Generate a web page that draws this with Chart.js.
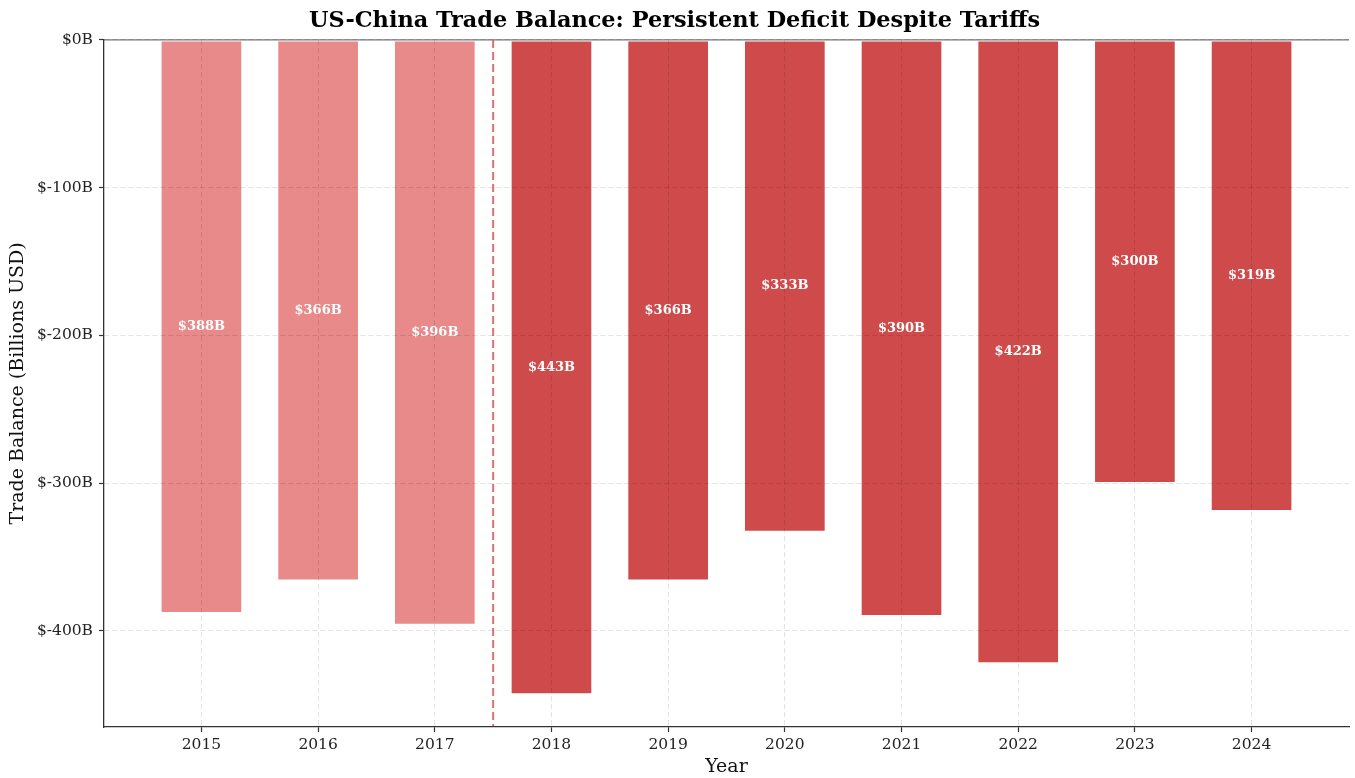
<!DOCTYPE html>
<html>
<head>
<meta charset="utf-8">
<script src="https://cdn.jsdelivr.net/npm/chart.js@4"></script>
<style>
    html, body { margin: 0; padding: 0; background: #fff; }
    #wrap { width: 1355px; height: 778px; }
</style>
</head>
<body>
<div id="wrap"><canvas id="tradeChart" width="1355" height="778"></canvas></div>
<script>
const years = ['2015', '2016', '2017', '2018', '2019', '2020', '2021', '2022', '2023', '2024'];
const balance = [-388, -366, -396, -443, -366, -333, -390, -422, -300, -319];
const yTicks = [-400, -300, -200, -100, 0];
const tariffStart = 2.5; // between 2017 and 2018

const lightRed = '#E88A8A';
const darkRed = '#CF4A4A';
const serif = "'DejaVu Serif', serif";

// dashed tariff line, zero line and value labels
const overlayPlugin = {
    id: 'overlay',
    afterDatasetsDraw(chart) {
        const { ctx, chartArea, scales } = chart;
        const x0 = scales.x.getPixelForValue(tariffStart);
        const y0 = scales.y.getPixelForValue(0);

        ctx.save();
        ctx.strokeStyle = 'rgba(205, 70, 70, 0.75)';
        ctx.lineWidth = 2;
        ctx.setLineDash([8, 4]);
        ctx.beginPath();
        ctx.moveTo(x0, chartArea.top);
        ctx.lineTo(x0, chartArea.bottom);
        ctx.stroke();

        ctx.setLineDash([]);
        ctx.strokeStyle = '#777';
        ctx.lineWidth = 1.2;
        ctx.beginPath();
        ctx.moveTo(chartArea.left, y0);
        ctx.lineTo(chartArea.right, y0);
        ctx.stroke();

        const meta = chart.getDatasetMeta(0);
        ctx.fillStyle = '#fff';
        ctx.font = 'bold 13px ' + serif;
        ctx.textAlign = 'center';
        ctx.textBaseline = 'middle';
        meta.data.forEach((bar, i) => {
            const mid = (bar.y + bar.base) / 2;
            ctx.fillText('$' + Math.abs(balance[i]) + 'B', bar.x, mid);
        });
        ctx.restore();
    }
};

const gridOpts = {
    z: 1,
    offset: false,
    color: 'rgba(0,0,0,0.11)',
    lineWidth: 1,
    tickLength: 5,
    tickColor: '#333',
    tickWidth: 1.2
};

new Chart(document.getElementById('tradeChart'), {
    type: 'bar',
    data: {
        datasets: [{
            data: balance.map((v, i) => ({ x: i, y: v })),
            backgroundColor: balance.map((v, i) => i < tariffStart ? lightRed : darkRed),
            borderColor: 'rgba(255,255,255,0.6)',
            borderWidth: 1,
            borderSkipped: false,
            barPercentage: 0.7,
            categoryPercentage: 1.0
        }]
    },
    options: {
        responsive: false,
        animation: false,
        layout: { padding: { left: 0, right: 6, top: 0, bottom: 0 } },
        plugins: {
            legend: { display: false },
            tooltip: { enabled: false },
            title: {
                display: true,
                text: 'US-China Trade Balance: Persistent Deficit Despite Tariffs',
                color: '#000',
                font: { family: serif, size: 22.4, weight: 'bold' },
                padding: { top: 8, bottom: 5 }
            }
        },
        scales: {
            x: {
                type: 'linear',
                offset: false,
                min: -0.835,
                max: 9.835,
                afterBuildTicks: scale => { scale.ticks = years.map((_, i) => ({ value: i })); },
                afterFit: scale => { scale.height = 51; },
                ticks: {
                    callback: v => years[v],
                    color: '#222',
                    font: { family: serif, size: 15.5 },
                    padding: 4,
                    maxRotation: 0,
                    autoSkip: false
                },
                grid: gridOpts,
                border: { display: true, z: 1, color: '#333', width: 1.3, dash: [5, 3] },
                title: {
                    display: true,
                    text: 'Year',
                    color: '#111',
                    font: { family: serif, size: 19 },
                    padding: { top: 0, bottom: 0 }
                }
            },
            y: {
                min: -465.15,
                max: 0,
                afterBuildTicks: scale => { scale.ticks = yTicks.map(v => ({ value: v })); },
                afterFit: scale => { scale.width = 104; },
                ticks: {
                    callback: v => '$' + v + 'B',
                    color: '#222',
                    font: { family: serif, size: 15.5 },
                    padding: 6
                },
                grid: gridOpts,
                border: { display: true, z: 1, color: '#333', width: 1.3, dash: [5, 3] },
                title: {
                    display: true,
                    text: 'Trade Balance (Billions USD)',
                    color: '#111',
                    font: { family: serif, size: 19 },
                    padding: { top: 7, bottom: 4 }
                }
            }
        }
    },
    plugins: [overlayPlugin]
});
</script>
</body>
</html>
